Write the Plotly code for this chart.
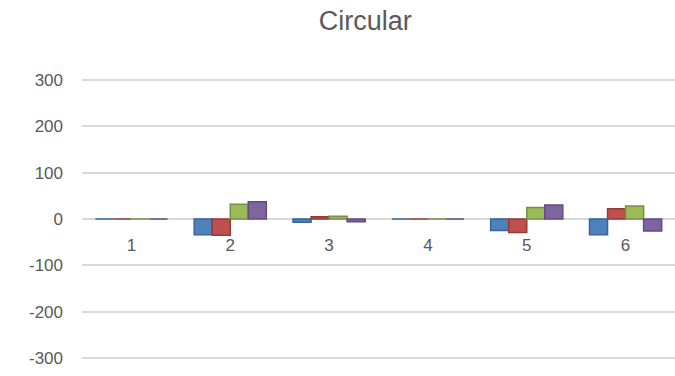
import plotly.graph_objects as go

categories = ["1", "2", "3", "4", "5", "6"]
series_names = ["Series1", "Series2", "Series3", "Series4"]
blue_vals = [0, -34, -7, 0, -25, -34]
red_vals = [0, -35, 5, 0, -29, 22]
green_vals = [0, 32, 6, 0, 25, 28]
purple_vals = [0, 37, -6, 0, 30, -26]
y_ticks = [-300, -200, -100, 0, 100, 200, 300]
y_tick_labels = ["-300", "-200", "-100", "0", "100", "200", "300"]

colors = ["#4F81BD", "#C0504D", "#9BBB59", "#8064A2"]
edge = ["#3A6597", "#943C39", "#779044", "#624C7D"]
values = [blue_vals, red_vals, green_vals, purple_vals]

fig = go.Figure()
for name, vals, c, e in zip(series_names, values, colors, edge):
    fig.add_trace(go.Bar(
        x=categories, y=vals, name=name,
        marker=dict(color=c, line=dict(color=e, width=1.5)),
    ))

font_family = "Liberation Sans, Arial, sans-serif"
fig.update_layout(
    width=675, height=376,
    margin=dict(l=82, r=0, t=78, b=16),
    paper_bgcolor="white", plot_bgcolor="white",
    barmode="group", bargap=0.27, bargroupgap=0,
    showlegend=False,
    title=dict(text="Circular", x=0.541, xanchor="center", y=0.945, yanchor="middle",
               font=dict(family=font_family, size=27, color="#595959")),
    font=dict(family=font_family, color="#595959"),
    xaxis=dict(
        type="category", showgrid=False, zeroline=False, showline=False,
        ticks="", anchor="free", position=0.5, ticklabelstandoff=14,
        tickfont=dict(size=17, color="#595959"),
    ),
    yaxis=dict(
        range=[-304, 304], tickvals=y_ticks, ticktext=y_tick_labels,
        showgrid=True, gridcolor="#D9D9D9",
        gridwidth=1.5, zeroline=False, showline=False, ticks="",
        ticklabelstandoff=18, tickfont=dict(size=17, color="#595959"),
    ),
)

fig.write_html("out.html")
